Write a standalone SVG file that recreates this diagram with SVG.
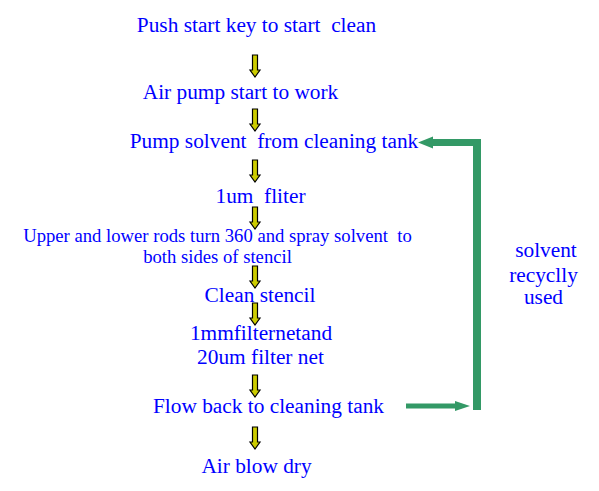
<svg xmlns="http://www.w3.org/2000/svg" width="599" height="491" viewBox="0 0 599 491">
<defs>
<style>
text{fill:#0000FF;text-anchor:middle;white-space:pre}
.t{font-size:21.33px}
.s{font-size:18.67px}
.ya{fill:#CCCC00;stroke:#000;stroke-width:1.2;stroke-linejoin:miter}
.g{fill:#339966}
</style>
<path id="ya" d="M-2.5,0 H2.5 V15 H5 L0,22 L-5,15 H-2.5 Z"/>
</defs>
<rect width="599" height="491" fill="#fff"/>
<g id="connectors">
<use href="#ya" class="ya" x="255" y="55"/>
<use href="#ya" class="ya" x="255" y="109"/>
<use href="#ya" class="ya" x="255" y="160"/>
<use href="#ya" class="ya" x="255" y="207"/>
<use href="#ya" class="ya" x="255" y="266"/>
<use href="#ya" class="ya" x="255" y="303"/>
<use href="#ya" class="ya" x="255" y="375"/>
<use href="#ya" class="ya" x="255" y="427"/>
<g id="recycle" class="g">
<rect x="473" y="143" width="8" height="267"/>
<path d="M481,139 V146 H433 V148.5 L418,142.5 L433,136.5 V139 Z"/>
<path d="M406,403.5 H455 V401 L470,406 L455,411 V408.5 H406 Z"/>
</g>
</g>
<g font-family="Liberation Serif, Times New Roman, DejaVu Serif, serif">
<g id="n1"><text class="t" x="256.5" y="32">Push start key to start  clean</text></g>
<g id="n2"><text class="t" x="240.5" y="99">Air pump start to work</text></g>
<g id="n3"><text class="t" x="274" y="148">Pump solvent  from cleaning tank</text></g>
<g id="n4"><text class="t" x="260.5" y="203">1um  fliter</text></g>
<g id="n5"><text class="s" x="217.5" y="242">Upper and lower rods turn 360 and spray solvent  to</text><text class="s" x="217.5" y="263">both sides of stencil</text></g>
<g id="n6"><text class="t" x="260" y="302">Clean stencil</text></g>
<g id="n7"><text class="t" x="261" y="340">1mmfilternetand</text><text class="t" x="260.5" y="364">20um filter net</text></g>
<g id="n8"><text class="t" x="268.5" y="413">Flow back to cleaning tank</text></g>
<g id="n9"><text class="t" x="256.5" y="473">Air blow dry</text></g>
<g id="label"><text class="t" x="546" y="257">solvent</text><text class="t" x="543.5" y="282">recyclly</text><text class="t" x="543.5" y="304">used</text></g>
</g>
</svg>
